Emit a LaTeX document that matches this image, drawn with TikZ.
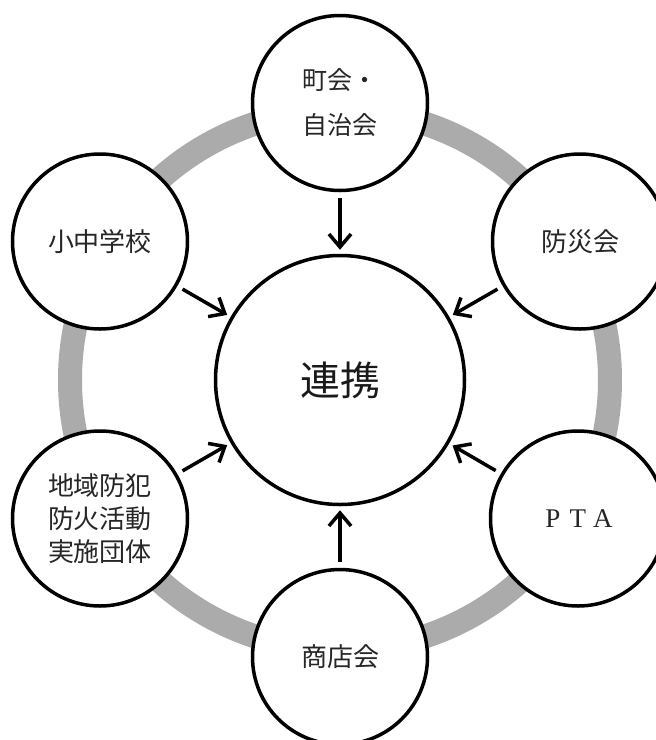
\documentclass[tikz,border=0pt]{standalone}
\usepackage{fontspec}
\newfontfamily\jp{Noto Sans CJK JP}
\newfontfamily\lserif{Liberation Serif}
\usetikzlibrary{arrows.meta}
\begin{document}
\begin{tikzpicture}[x=1pt,y=-1pt,
  small/.style={circle,draw,line width=3.5pt,fill=white,minimum size=175pt,inner sep=0pt,
    font=\jp\fontsize{26}{33}\selectfont,text=black!85,align=center},
  big/.style={circle,draw,line width=3.5pt,fill=white,minimum size=249pt,inner sep=0pt,
    font=\jp\fontsize{40}{48}\selectfont,text=black!90},
  link/.style={line width=3.5pt,-{Straight Barb[length=13pt,width=22pt]},shorten <=6pt,shorten >=4pt},
  ring/.style={draw=black!33,line width=24pt}]
\useasboundingbox (0,0) rectangle (656,740);
\clip (0,0) rectangle (656,740);
\fill[white] (0,0) rectangle (656,740);
\draw[ring] (340,380) circle[radius=270];
\node[big] (c) at (340,380) {連携};
\node[small,font=\jp\fontsize{25}{45}\selectfont] (t) at (340,103) {町会・\\自治会};
\node[small] (ul) at (100,241.5) {小中学校};
\node[small] (ur) at (580,241.5) {防災会};
\node[small] (ll) at (100,518.5) {地域防犯\\防火活動\\実施団体};
\node[small,font=\lserif\fontsize{27}{30}\selectfont] (lr) at (578,518.5) {\makebox[25pt]{P}\makebox[25pt]{T}\makebox[25pt]{A}};
\node[small] (b) at (340,657) {商店会};
\foreach \n in {t,ul,ur,ll,lr,b}{
  \draw[link] (\n) -- (c);
}
\end{tikzpicture}
\end{document}
